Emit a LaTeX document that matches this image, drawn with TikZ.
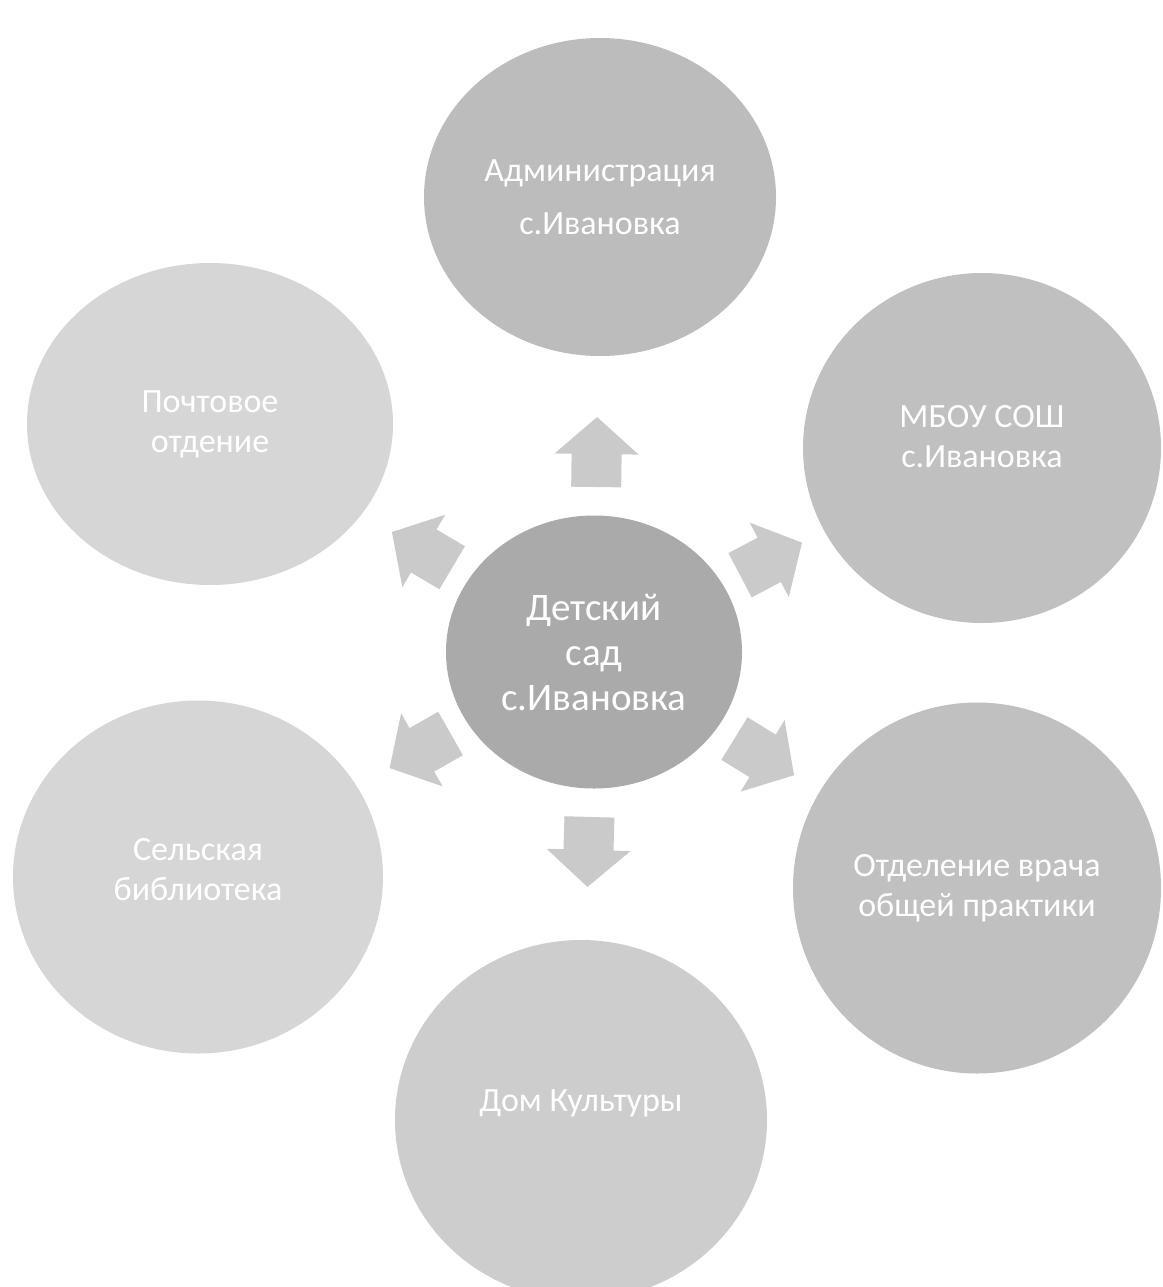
\documentclass[tikz,border=0pt]{standalone}
\usepackage{fontspec}
\setmainfont{Carlito}
\usepackage{tikz}
\usetikzlibrary{calc,shapes.geometric}
\definecolor{admfill}{HTML}{BCBCBC}
\definecolor{svetlfill}{HTML}{D6D6D6}
\definecolor{srfill}{HTML}{C0C0C0}
\definecolor{sadfill}{HTML}{AAAAAA}
\definecolor{strelkafill}{HTML}{CACACA}
\tikzset{
  krug/.style={ellipse,inner sep=0pt,align=center,text=white,
    font=\fontsize{34}{40}\selectfont},
  sad/.style={krug,fill=sadfill,font=\fontsize{39}{45}\selectfont},
  strelka/.style={fill=strelkafill}
}

\begin{document}
\begin{tikzpicture}[x=1pt,y=-1pt]
\useasboundingbox (0,0) rectangle (1162,1287);
\fill[white] (0,0) rectangle (1162,1287);
\node[krug,fill=admfill,minimum width=352pt,minimum height=318pt,
  font=\fontsize{34}{53}\selectfont] (adm) at (600,197) {Администрация\\с.Ивановка};
\node[krug,fill=svetlfill,minimum width=366pt,minimum height=322pt] (pochta) at (210,424) {Почтовое\\отдение};
\node[krug,fill=srfill,minimum width=358pt,minimum height=350pt,text depth=24pt] (shkola) at (982,448) {МБОУ СОШ\\с.Ивановка};
\node[krug,fill=svetlfill,minimum width=370pt,minimum height=353pt,text depth=16pt] (biblio) at (198,877) {Сельская\\библиотека};
\node[krug,fill=srfill,minimum width=368pt,minimum height=371pt] (vrach) at (977,888) {Отделение врача\\общей практики};
\node[krug,fill=srfill!80!white,minimum width=372pt,minimum height=360pt,text depth=38pt] (dk) at (581,1120) {Дом Культуры};
\node[sad,minimum width=296pt,minimum height=273pt] (dc) at (594,652) {Детский\\сад\\с.Ивановка};
% block arrows from the centre
\foreach \o in {adm,shkola,vrach,dk,biblio,pochta}{
  \coordinate (b1) at ($(dc)!165pt!(\o)$);
  \coordinate (b2) at ($(dc)!198pt!(\o)$);
  \coordinate (tip) at ($(dc)!235pt!(\o)$);
  \fill[strelka] ($(b1)!25pt!90:(\o)$) -- ($(b2)!25pt!90:(\o)$) -- ($(b2)!42pt!90:(\o)$)
    -- (tip) -- ($(b2)!42pt!-90:(\o)$) -- ($(b2)!25pt!-90:(\o)$) -- ($(b1)!25pt!-90:(\o)$) -- cycle;
}
\end{tikzpicture}
\end{document}
